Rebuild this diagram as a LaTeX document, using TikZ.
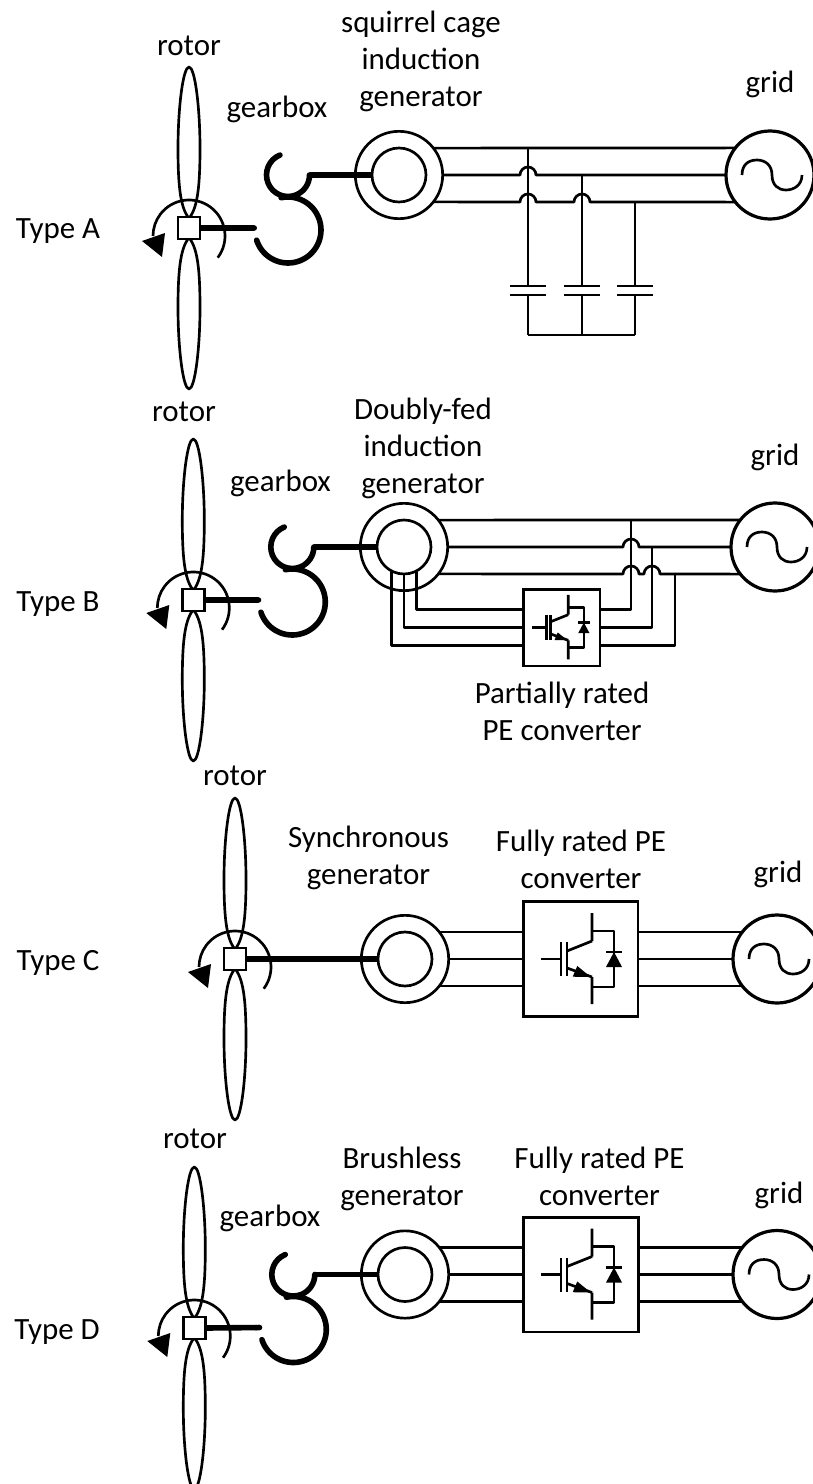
\documentclass[tikz,border=0pt]{standalone}
\usepackage{fontspec}
\setmainfont{Carlito}
\usetikzlibrary{arrows.meta, calc}
\tikzset{
  % turbine: blades, rotation arrow and hub, origin at the hub
  rotorpic/.pic={
    \foreach \s in {1,-1} {
      \draw[wire, yscale=\s] (0,161) .. controls (-6,161) and (-11,120) .. (-11,80)
        .. controls (-11,45) and (-9,22) .. (-1,11) -- (1,11)
        .. controls (9,22) and (11,45) .. (11,80)
        .. controls (11,120) and (6,161) .. (0,161) -- cycle;
    }
    \draw[wire] (0,-8) ++(-37:36) arc[start angle=-37, end angle=180, radius=36];
    \fill (-47,-13) -- (-24,-5) -- (-27,-29) -- cycle;
    \node[hubbox] (-hub) at (0,0) {};
  },
  % gearbox: two thick arcs
  gearpic/.pic={
    \draw[gearline] (0,0) ++(102:33) arc[start angle=102, end angle=-162, radius=33];
    \draw[gearline] (0,55) ++(112:21.5) arc[start angle=112, end angle=360, radius=21.5];
    \coordinate (-in) at (-31,2);
    \coordinate (-out) at (21.5,55);
  },
  sinepic/.pic={
    \draw[wire] (-28,0) .. controls (-28,10) and (-22,15) .. (-13,15)
      .. controls (-5,15) and (2,10) .. (2,0)
      .. controls (2,-10) and (8,-15) .. (16,-15)
      .. controls (24,-15) and (32,-10) .. (32,0);
  },
  % switch and diode, origin at the gate end
  igbtpic/.pic={
    \draw[wire] (0,0) -- (20,0) (20,17) -- (20,-17) (26,17) -- (26,-17);
    \draw[wire] (26,8) -- (51,18) (51,46) -- (51,18);
    \draw[wire] (26,-9) -- (51,-18) (51,-18) -- (51,-45);
    \fill (36.3,-7) -- (31.7,-17.7) -- (49.7,-18) -- cycle;
    \draw[wire] (51,28) -- (73,28) -- (73,-28) -- (51,-28);
    \fill (73,7) -- (65,-8) -- (81,-8) -- cycle;
    \draw[wire] (65,7) -- (81,7);
  },
}

\begin{document}
\begin{tikzpicture}[
    x=0.75pt, y=0.75pt,
    wire/.style={line width=2pt, line join=round},
    shaft/.style={line width=4.2pt, line join=round},
    gearline/.style={line width=4.2pt, line cap=round},
    hubbox/.style={draw, fill=white, line width=2pt, minimum size=16.5pt, inner sep=0pt, outer sep=0pt},
    gen/.style={draw, circle, line width=2pt, minimum size=65.5pt, inner sep=0pt, outer sep=0pt},
    geninner/.style={draw, circle, line width=2pt, minimum size=40.5pt, inner sep=0pt, outer sep=0pt},
    gridsrc/.style={draw, circle, line width=2.4pt, minimum size=66pt, inner sep=0pt, outer sep=0pt},
    conv/.style={draw, line width=2pt, minimum size=86pt, inner sep=0pt, outer sep=0pt},
    convsmall/.style={conv, minimum size=57.5pt},
    lab/.style={font=\fontsize{23.2}{27.75}\selectfont, align=center, inner sep=0pt, anchor=base},
]
\useasboundingbox (0,0) rectangle (813,-1484);

% Type A
\pic (rotA) at (189,-228) {rotorpic};
\pic (gearA) at (288,-230) {gearpic};
\node[gen] (genA) at (399,-175) {};
\node[geninner] (genAi) at (genA) {};
\node[gridsrc] (gridA) at (770,-175) {};
\pic at (gridA) {sinepic};
\draw[shaft, -{Round Cap[]}] (rotA-hub.east) -- (gearA-in);
\draw[shaft] (gearA-out) -- (genAi.west);
\draw[wire] (genA.38) -- (gridA.142);
\draw[wire] (genA.east) -- (520,-175) arc[start angle=180, end angle=0, radius=8] -- (gridA.west);
\draw[wire] (genA.-38) -- (520,-202) arc[start angle=180, end angle=0, radius=8]
  -- (574,-202) arc[start angle=180, end angle=0, radius=8] -- (gridA.-142);
% shunt capacitors
\foreach \x/\ytop in {528/148, 582/175, 635/202} {
  \draw[wire] (\x,-\ytop) -- (\x,-286) (\x,-295) -- (\x,-335);
  \draw[wire] (\x-18,-286) -- (\x+18,-286) (\x-18,-295) -- (\x+18,-295);
}
\draw[wire] (528,-335) -- (635,-335);
\node[lab] (labRotA) at (189,-56) {rotor};
\node[lab] (labGearA) at (277,-118) {gearbox};
\node[lab] (labGenA) at (421,-107) {squirrel cage\\induction\\generator};
\node[lab] (labGridA) at (770,-93) {grid};
\node[lab] (labTypeA) at (58,-238) {Type A};

% Type B
\pic (rotB) at (193.3,-600) {rotorpic};
\pic (gearB) at (292.3,-602) {gearpic};
\node[gen] (genB) at (404,-547) {};
\node[geninner] (genBi) at (genB) {};
\node[gridsrc] (gridB) at (775,-547) {};
\pic at (gridB) {sinepic};
\node[convsmall] (convB) at (561.5,-627.5) {};
\pic[scale=0.71] at (532,-627.5) {igbtpic};
\draw[shaft, -{Round Cap[]}] (rotB-hub.east) -- (gearB-in);
\draw[shaft] (gearB-out) -- (genBi.west);
\draw[wire] (genB.38) -- (gridB.142);
\draw[wire] (genB.east) -- (623,-547) arc[start angle=180, end angle=0, radius=8] -- (gridB.west);
\draw[wire] (genB.-38) -- (623,-574) arc[start angle=180, end angle=0, radius=8]
  -- (644,-574) arc[start angle=180, end angle=0, radius=8] -- (gridB.-142);
\coordinate (tapB1) at (631,-520);
\coordinate (tapB2) at (652,-547);
\coordinate (tapB3) at (675,-574);
\draw[wire] (genBi.-62) |- ($(convB.west)+(0,18)$);
\draw[wire] (genBi.south) |- (convB.west);
\draw[wire] (genBi.-118) |- ($(convB.west)+(0,-18)$);
\draw[wire] ($(convB.east)+(0,18)$) -| (tapB1);
\draw[wire] (convB.east) -| (tapB2);
\draw[wire] ($(convB.east)+(0,-18)$) -| (tapB3);
\node[lab] (labRotB) at (184,-421) {rotor};
\node[lab] (labGearB) at (280.5,-491) {gearbox};
\node[lab] (labGenB) at (423,-493) {Doubly-fed\\induction\\generator};
\node[lab] (labGridB) at (775,-465) {grid};
\node[lab] (labConvB) at (562,-740) {Partially rated\\PE converter};
\node[lab] (labTypeB) at (58,-611) {Type B};

% Type C
\pic (rotC) at (235,-959) {rotorpic};
\node[gen] (genC) at (405,-959) {};
\node[geninner] (genCi) at (genC) {};
\node[gridsrc] (gridC) at (777,-959) {};
\pic at (gridC) {sinepic};
\node[conv] (convC) at (580.5,-959) {};
\pic at (541,-959) {igbtpic};
\draw[shaft] (rotC-hub.east) -- (genCi.west);
\draw[wire] (genC.38) -- (genC.38 -| convC.west);
\draw[wire] (genC.east) -- (convC.west);
\draw[wire] (genC.-38) -- (genC.-38 -| convC.west);
\draw[wire] (gridC.142) -- (gridC.142 -| convC.east);
\draw[wire] (gridC.west) -- (convC.east);
\draw[wire] (gridC.-142) -- (gridC.-142 -| convC.east);
\node[lab] (labRotC) at (235,-785) {rotor};
\node[lab] (labGenC) at (368.5,-884) {Synchronous\\generator};
\node[lab] (labConvC) at (581,-888) {Fully rated PE\\converter};
\node[lab] (labGridC) at (778,-882) {grid};
\node[lab] (labTypeC) at (58,-970) {Type C};

% Type D
\pic (rotD) at (194.3,-1328) {rotorpic};
\pic (gearD) at (293.3,-1329.5) {gearpic};
\node[gen] (genD) at (405,-1274.5) {};
\node[geninner] (genDi) at (genD) {};
\node[gridsrc] (gridD) at (777,-1274.5) {};
\pic at (gridD) {sinepic};
\node[conv] (convD) at (581,-1274.5) {};
\pic at (541,-1274.5) {igbtpic};
\draw[shaft, -{Round Cap[]}] (rotD-hub.east) -- (gearD-in);
\draw[shaft] (gearD-out) -- (genDi.west);
\draw[wire] (genD.38) -- (genD.38 -| convD.west);
\draw[wire] (genD.east) -- (convD.west);
\draw[wire] (genD.-38) -- (genD.-38 -| convD.west);
\draw[wire] (gridD.142) -- (gridD.142 -| convD.east);
\draw[wire] (gridD.west) -- (convD.east);
\draw[wire] (gridD.-142) -- (gridD.-142 -| convD.east);
\node[lab] (labRotD) at (195,-1148) {rotor};
\node[lab] (labGearD) at (270,-1226) {gearbox};
\node[lab] (labGenD) at (402,-1205) {Brushless\\generator};
\node[lab] (labConvD) at (599.5,-1205) {Fully rated PE\\converter};
\node[lab] (labGridD) at (779,-1203) {grid};
\node[lab] (labTypeD) at (57,-1339) {Type D};
\end{tikzpicture}
\end{document}
